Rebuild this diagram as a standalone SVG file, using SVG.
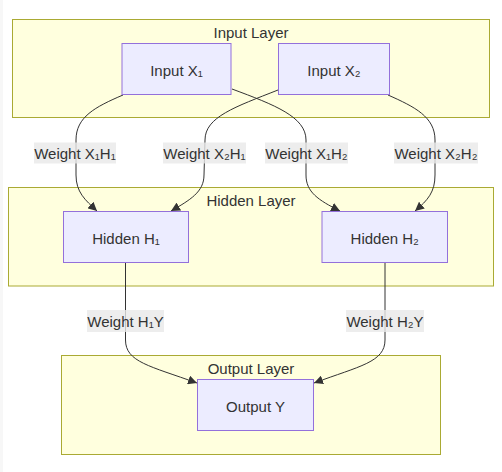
<svg xmlns="http://www.w3.org/2000/svg" width="502" height="472" viewBox="0 0 502 472">
<defs>
<marker id="arrow" viewBox="0 0 10 10" refX="10" refY="5" markerWidth="9" markerHeight="9" markerUnits="userSpaceOnUse" orient="auto">
<path d="M0,0 L10,5 L0,10 z" fill="#333333"/>
</marker>
</defs>
<style>
.cluster{fill:#ffffde;stroke:#aaaa33;stroke-width:1}
.node rect{fill:#ececff;stroke:#9370db;stroke-width:1}
text{font-family:"Liberation Sans",Arial,sans-serif;font-size:15px;fill:#333333;text-anchor:middle;dominant-baseline:central}
.edge{fill:none;stroke:#333333;stroke-width:1;marker-end:url(#arrow)}
.lbl rect{fill:rgba(232,232,232,0.8)}
</style>
<rect x="0" y="0" width="502" height="472" fill="#ffffff"/>
<rect x="0" y="0" width="3" height="472" fill="#f7f7f7"/>
<g id="clusters">
<g id="inputLayer"><rect class="cluster" x="12.5" y="19.5" width="477" height="98"/><text x="251" y="32">Input Layer</text></g>
<g id="hiddenLayer"><rect class="cluster" x="8.5" y="187.5" width="485" height="98.5"/><text x="251" y="200">Hidden Layer</text></g>
<g id="outputLayer"><rect class="cluster" x="61.5" y="355.5" width="379" height="99"/><text x="251" y="368">Output Layer</text></g>
</g>
<g id="connectors">
<path class="edge" d="M123,95 C95,107 76,117 76,140 L76,175 C76,192 85,200 97,211"/>
<path class="edge" d="M278,90 C235,107 205,117 205,140 L204,175 C204,192 190,200 171,211"/>
<path class="edge" d="M232,89 C275,105 306,117 306,140 L306,175 C306,192 318,200 340,211"/>
<path class="edge" d="M388,95 C415,107 435,117 435,140 L435,175 C435,192 428,200 415,211"/>
<path class="edge" d="M125.5,262 L125.5,340 C125.5,362 150,366 197,383"/>
<path class="edge" d="M385,262 L385,340 C385,362 360,366 314,383"/>
</g>
<g id="edgeLabels">
<g class="lbl"><rect x="34" y="142.5" width="82" height="21"/><text x="75" y="153">Weight X₁H₁</text></g>
<g class="lbl"><rect x="163" y="142.5" width="83" height="21"/><text x="204.5" y="153">Weight X₂H₁</text></g>
<g class="lbl"><rect x="265" y="142.5" width="83" height="21"/><text x="306.5" y="153">Weight X₁H₂</text></g>
<g class="lbl"><rect x="394" y="142.5" width="84" height="21"/><text x="436" y="153">Weight X₂H₂</text></g>
<g class="lbl"><rect x="87" y="310" width="77" height="22"/><text x="125.5" y="321">Weight H₁Y</text></g>
<g class="lbl"><rect x="346" y="310" width="78" height="22"/><text x="385" y="321">Weight H₂Y</text></g>
</g>
<g id="inputX1" class="node"><rect x="122" y="43.5" width="109" height="51"/><text x="176.5" y="70">Input X₁</text></g>
<g id="inputX2" class="node"><rect x="278.5" y="43.5" width="111" height="51"/><text x="334" y="70">Input X₂</text></g>
<g id="hiddenH1" class="node"><rect x="63.5" y="211.5" width="125" height="51"/><text x="126" y="238">Hidden H₁</text></g>
<g id="hiddenH2" class="node"><rect x="322" y="211.5" width="125.5" height="51"/><text x="384.75" y="238">Hidden H₂</text></g>
<g id="outputY" class="node"><rect x="197.5" y="379.5" width="116" height="51"/><text x="255.5" y="406">Output Y</text></g>
</svg>
